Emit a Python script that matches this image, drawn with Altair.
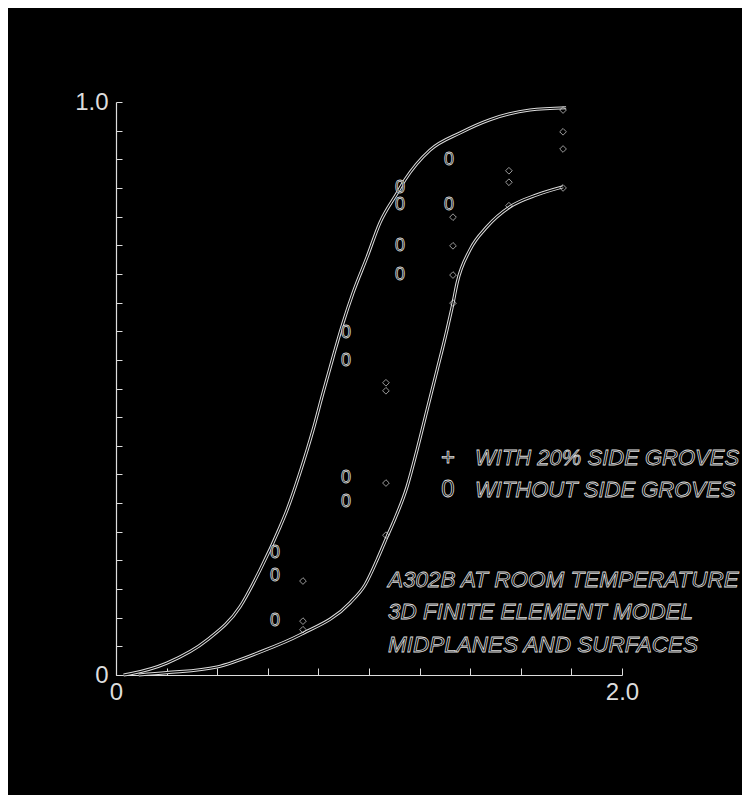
import altair as alt
import pandas as pd

# Upper bounding curve
upper_x = [0.03, 0.055, 0.202, 0.360, 0.490, 0.569, 0.648, 0.676, 0.727, 0.779, 0.818, 0.858, 0.897, 0.937, 0.992, 1.043, 1.111, 1.142, 1.241, 1.360, 1.478, 1.636, 1.779]
upper_y = [0.0, 0.002, 0.021, 0.061, 0.119, 0.183, 0.258, 0.288, 0.353, 0.428, 0.492, 0.555, 0.614, 0.667, 0.729, 0.789, 0.841, 0.864, 0.916, 0.946, 0.969, 0.986, 0.990]
# Lower bounding curve
lower_x = [0.09, 0.20, 0.399, 0.569, 0.727, 0.925, 0.984, 1.032, 1.071, 1.095, 1.150, 1.190, 1.229, 1.269, 1.308, 1.332, 1.348, 1.399, 1.466, 1.557, 1.664, 1.767]
lower_y = [0.0, 0.004, 0.014, 0.040, 0.070, 0.126, 0.157, 0.201, 0.241, 0.265, 0.328, 0.393, 0.462, 0.532, 0.602, 0.649, 0.684, 0.742, 0.782, 0.817, 0.838, 0.852]

# "0" markers: without side grooves
zero_x = [0.628, 0.628, 0.628, 0.909, 0.909, 0.909, 0.909, 1.123, 1.123, 1.123, 1.123, 1.316, 1.316]
zero_y = [0.213, 0.173, 0.094, 0.597, 0.548, 0.344, 0.302, 0.850, 0.820, 0.749, 0.698, 0.899, 0.820]

# "+" markers (drawn as small diamonds): with 20% side grooves
plus_x = [0.739, 0.739, 0.739, 1.067, 1.067, 1.067, 1.067, 1.332, 1.332, 1.332, 1.332, 1.553, 1.553, 1.553, 1.767, 1.767, 1.767, 1.767]
plus_y = [0.164, 0.094, 0.079, 0.510, 0.496, 0.335, 0.244, 0.799, 0.749, 0.698, 0.649, 0.880, 0.860, 0.819, 0.986, 0.948, 0.918, 0.850]

# Legend and annotation text
legend_sym = ["+", "0"]
legend_txt = ["WITH 20% SIDE GROVES", "WITHOUT SIDE GROVES"]
legend_y = [0.379, 0.323]
note_txt = ["A302B AT ROOM TEMPERATURE", "3D FINITE ELEMENT MODEL", "MIDPLANES AND SURFACES"]
note_y = [0.166, 0.110, 0.052]

y_ticks = [round(i * 0.05, 2) for i in range(21)]
x_ticks = [round(i * 0.2, 1) for i in range(11)]

FONT = "Liberation Sans, Arial, sans-serif"
W, H = 506, 573
FG = "#dddddd"

up = pd.DataFrame({"x": upper_x, "y": upper_y, "o": range(len(upper_x))})
lo = pd.DataFrame({"x": lower_x, "y": lower_y, "o": range(len(lower_x))})
zr = pd.DataFrame({"x": zero_x, "y": zero_y, "t": ["0"] * len(zero_x)})
pl = pd.DataFrame({"x": plus_x, "y": plus_y})
lg = pd.DataFrame({"s": legend_sym, "t": legend_txt, "y": legend_y, "xs": [1.312] * 2, "xt": [1.419] * 2})
nt = pd.DataFrame({"t": note_txt, "y": note_y, "x": [1.075] * 3})

xs = alt.Scale(domain=[0, 2.0], nice=False, zero=False)
ys = alt.Scale(domain=[0, 1.0], nice=False, zero=False)

axis_x = alt.Axis(orient="bottom", values=x_ticks,
                  labelExpr="datum.value == 0 ? '0' : (datum.value == 2 ? '2.0' : '')",
                  labelOverlap=False, labelFlush=False, grid=False, domainColor=FG, domainWidth=1.2,
                  tickColor=FG, tickWidth=1, tickSize={"expr": "-7"},
                  labelColor=FG, labelFont=FONT, labelFontSize=24, labelPadding=12, title=None)
axis_y = alt.Axis(orient="left", values=y_ticks,
                  labelExpr="datum.value == 0 ? '0' : (datum.value == 1 ? '1.0' : '')",
                  labelOverlap=False, labelFlush=False, grid=False, domainColor=FG, domainWidth=1.2,
                  tickColor=FG, tickWidth=1, tickSize={"expr": "-6"},
                  labelColor=FG, labelFont=FONT, labelFontSize=24, labelPadding=14, title=None)

def X(field):
    return alt.X(field, type="quantitative", scale=xs, axis=axis_x)

def Y(field):
    return alt.Y(field, type="quantitative", scale=ys, axis=axis_y)

def curve(df, width, color):
    return alt.Chart(df).mark_line(color=color, strokeWidth=width, interpolate="monotone").encode(
        x=X("x"), y=Y("y"), order="o:Q",
    )

u_out = curve(up, 3.2, FG)
u_in = curve(up, 1.2, "black")
l_out = curve(lo, 3.2, FG)
l_in = curve(lo, 1.2, "black")

zeros = alt.Chart(zr).mark_text(font=FONT, fontSize=18, fill="black", stroke=FG, strokeWidth=0.8,
                                baseline="middle", align="center").encode(
    x=X("x"), y=Y("y"), text="t:N")

pluses = alt.Chart(pl).mark_point(shape="diamond", size=45, filled=False, color=FG, strokeWidth=1).encode(
    x=X("x"), y=Y("y"))

leg_sym = alt.Chart(lg).mark_text(font=FONT, fontSize=24, fill="black", stroke=FG, strokeWidth=0.8,
                                  baseline="middle", align="center").encode(
    x=X("xs"), y=Y("y"), text="s:N")
leg_txt = alt.Chart(lg).mark_text(font=FONT, fontSize=22, fontStyle="italic", fill="black", stroke=FG,
                                  strokeWidth=0.8, baseline="middle", align="left").encode(
    x=X("xt"), y=Y("y"), text="t:N")
notes = alt.Chart(nt).mark_text(font=FONT, fontSize=22.5, fontStyle="italic", fill="black", stroke=FG,
                                strokeWidth=0.8, baseline="middle", align="left").encode(
    x=X("x"), y=Y("y"), text="t:N")

chart = alt.layer(u_out, u_in, l_out, l_in, zeros, pluses, leg_sym, leg_txt, notes).properties(
    width=W, height=H, autosize="none",
    padding={"left": 108, "top": 94, "right": 120, "bottom": 120},
    background="black",
).configure_view(stroke=None)

chart.save("out.html", embed_options={"renderer": "svg", "actions": False})
